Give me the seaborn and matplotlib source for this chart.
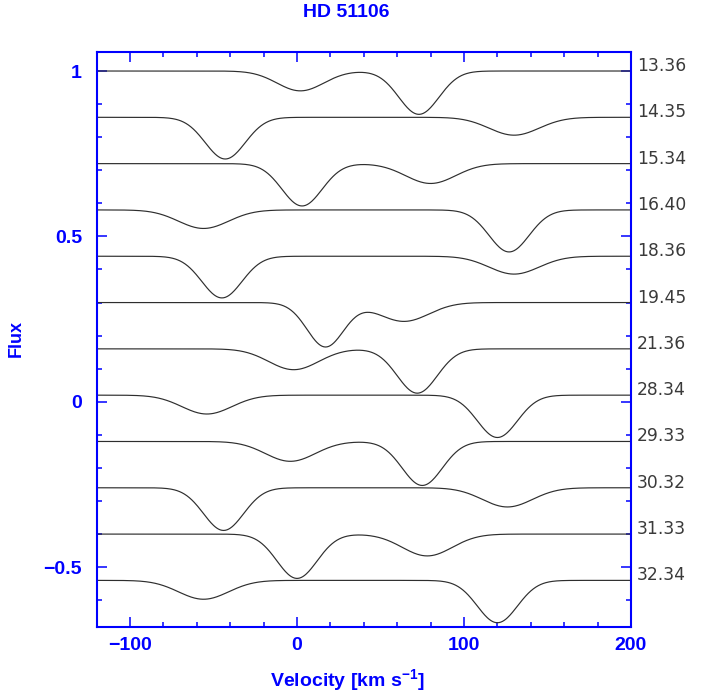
import numpy as np
import pandas as pd
import matplotlib
matplotlib.use("Agg")
import matplotlib.pyplot as plt
from matplotlib.ticker import MultipleLocator
import seaborn as sns

# Observation labels (day) and vertical offsets of each continuum
dates = ["13.36", "14.35", "15.34", "16.40", "18.36", "19.45",
         "21.36", "28.34", "29.33", "30.32", "31.33", "32.34"]
offsets = [1.00, 0.86, 0.72, 0.58, 0.44, 0.30,
           0.16, 0.02, -0.12, -0.26, -0.40, -0.54]

# Primary (deeper) absorption component: centre [km/s], depth, sigma [km/s]
prim_vel = [73, -43, 3, 127, -45, 17, 72, 120, 75, -44, 0, 120]
prim_depth = [0.131, 0.126, 0.128, 0.127, 0.126, 0.134,
              0.134, 0.128, 0.133, 0.129, 0.134, 0.128]
prim_sigma = [12, 12, 12, 12, 12, 11, 12, 12, 12, 12, 12, 12]

# Secondary (shallower, broader) absorption component
sec_vel = [2, 130, 80, -56, 130, 64, -2, -54, -4, 126, 78, -56]
sec_depth = [0.060, 0.054, 0.060, 0.056, 0.054, 0.057,
             0.063, 0.057, 0.060, 0.058, 0.066, 0.057]
sec_sigma = [14, 15, 15, 15, 15, 15, 15, 15, 15, 15, 15, 15]

velocity = np.linspace(-120, 200, 641)

frames = []
for i, d in enumerate(dates):
    flux = (offsets[i]
            - prim_depth[i] * np.exp(-0.5 * ((velocity - prim_vel[i]) / prim_sigma[i]) ** 2)
            - sec_depth[i] * np.exp(-0.5 * ((velocity - sec_vel[i]) / sec_sigma[i]) ** 2))
    frames.append(pd.DataFrame({"velocity": velocity, "flux": flux, "date": d}))
df = pd.concat(frames, ignore_index=True)

sns.set_theme(style="ticks")
plt.rcParams["font.family"] = ["Liberation Sans", "DejaVu Sans"]
plt.rcParams["mathtext.fontset"] = "custom"
plt.rcParams["mathtext.rm"] = "Liberation Sans:bold"
plt.rcParams["mathtext.it"] = "Liberation Sans:bold"
plt.rcParams["mathtext.default"] = "rm"

blue = "#0000ff"
fig = plt.figure(figsize=(7.12, 6.96), dpi=100)
ax = fig.add_axes([0.1358, 0.0991, 0.7504, 0.8262])

sns.lineplot(data=df, x="velocity", y="flux", hue="date", units="date",
             estimator=None, palette=["#2e2e2e"] * len(dates),
             linewidth=0.85, legend=False, ax=ax)

ax.set_xlim(-120, 200)
ax.set_ylim(-0.681, 1.0575)

ax.xaxis.set_major_locator(MultipleLocator(100))
ax.xaxis.set_minor_locator(MultipleLocator(20))
ax.yaxis.set_minor_locator(MultipleLocator(0.1))
ax.set_yticks([-0.5, 0, 0.5, 1])
ax.set_yticklabels(["\u22120.5", "0", "0.5", "1"])
ax.set_xticks([-100, 0, 100, 200])
ax.set_xticklabels(["\u2212100", "0", "100", "200"])

for s in ax.spines.values():
    s.set_color(blue)
    s.set_linewidth(1.5)

ax.tick_params(which="both", direction="in", color=blue, top=True, right=True,
               labelcolor=blue, labelsize=14, width=1.1)
ax.tick_params(which="major", length=7)
ax.tick_params(which="minor", length=3.8)
ax.tick_params(axis="x", which="major", pad=7)
ax.tick_params(axis="y", which="major", pad=10.5)
for lab in ax.get_xticklabels() + ax.get_yticklabels():
    lab.set_fontweight("bold")

ax.set_xlabel("")
ax.set_ylabel("")

fig.text(347 / 712, 1 - 686.5 / 696, r"Velocity [km s$^{-1}$]", color=blue,
         fontsize=14, fontweight="bold", ha="center", va="baseline")
fig.text(16 / 712, 1 - 339 / 696, "Flux", color=blue, fontsize=13,
         fontweight="bold", rotation=90, ha="center", va="center")
fig.text(346 / 712, 1 - 17.3 / 696, "HD 51106", color=blue, fontsize=14,
         fontweight="bold", ha="center", va="baseline")

for d, off in zip(dates, offsets):
    ax.text(1.0112, off, d, transform=ax.get_yaxis_transform(),
            color="#3a3a3a", fontsize=12.3, family="DejaVu Sans",
            ha="left", va="baseline", clip_on=False)

fig.savefig("out.png", dpi=100)
